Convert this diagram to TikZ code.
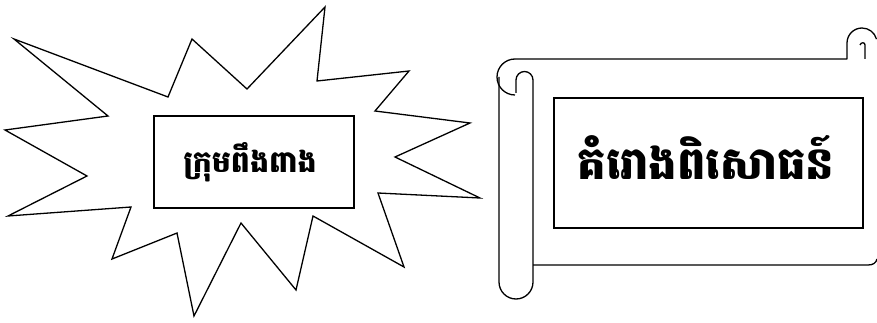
\documentclass[tikz,border=0pt]{standalone}
\usepackage{fontspec}
\newfontfamily\khmerfont[Script=Khmer]{Battambang}
\begin{document}
\begin{tikzpicture}[x=1pt,y=1pt,line join=miter,
  outline/.style={draw=black,line width=1.3pt},
  label/.style={inner sep=0pt}]
\useasboundingbox (0,0) rectangle (877,-323);
% starburst
\draw[outline] (14,-39) -- (168,-97) -- (192,-39) -- (247,-89) -- (325,-7) -- (317,-81)
  -- (409,-71) -- (375,-111) -- (470,-123) -- (395,-157) -- (480,-198) -- (378,-193)
  -- (404,-267) -- (313,-216) -- (296,-290) -- (241,-223) -- (194,-316) -- (177,-233)
  -- (112,-259) -- (131,-207) -- (8,-216) -- (87,-176) -- (5,-130) -- (108,-116) -- cycle;
\node[outline, minimum width=200pt, minimum height=92pt, inner sep=0pt] (box1) at (254,-162) {};
\node[label, font=\khmerfont\bfseries\fontsize{30}{34}\selectfont] (t1) at (250,-162) {ក្រុមពឹងពាង};
% scroll body
\coordinate (tl) at (515,-59);
\draw[outline, line join=round]
  (tl) -- (847,-59) -- (847,-43) arc[start angle=180,end angle=15,radius=15];
\draw[outline] (865,-59) -- (865,-45) .. controls (865,-42) and (861,-42) .. (860,-45);
\draw[outline] (533,-265) -- (868,-265) .. controls (873,-265) and (876,-263) .. (877,-259);
% left roll
\draw[outline, line join=round]
  (tl) arc[start angle=90,end angle=270,radius=18];
\draw[outline, line join=round]
  (499,-77) -- (499,-282) arc[start angle=180,end angle=360,radius=17] -- (533,-80)
  arc[start angle=0,end angle=180,radius=8.5] -- (516,-93);
\node[outline, minimum width=309pt, minimum height=130pt, inner sep=0pt] (box2) at (708.5,-163) {};
\node[label, font=\khmerfont\bfseries\fontsize{45}{50}\selectfont] (t2) at (706,-158) {គំរោងពិសោធន៍};
\end{tikzpicture}
\end{document}
